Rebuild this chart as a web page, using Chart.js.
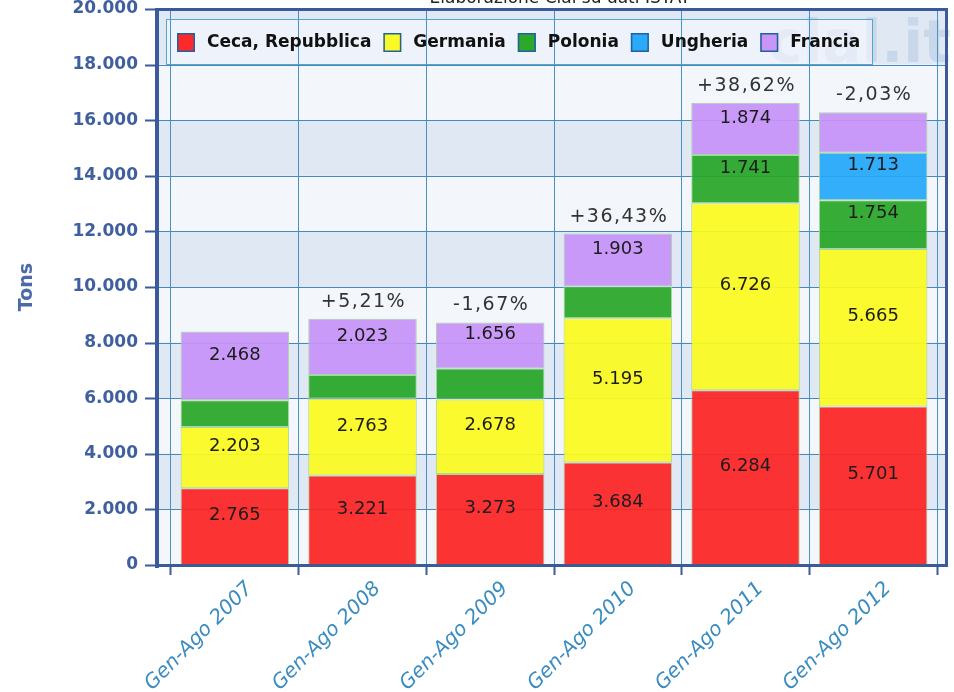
<!DOCTYPE html>
<html><head><meta charset="utf-8">
<script src="https://cdn.jsdelivr.net/npm/chart.js@4.4.1/dist/chart.umd.min.js"></script>
<style>html,body{margin:0;padding:0;background:#fff;}#wrap{width:954px;height:692px;position:relative;}</style>
</head><body><div id="wrap"><canvas id="c" width="954" height="692"></canvas></div>
<script>
const categories = ['Gen-Ago 2007','Gen-Ago 2008','Gen-Ago 2009','Gen-Ago 2010','Gen-Ago 2011','Gen-Ago 2012'];
const seriesNames = ['Ceca, Repubblica','Germania','Polonia','Ungheria','Francia'];
const ceca     = [2765, 3221, 3273, 3684, 6284, 5701];
const germania = [2203, 2763, 2678, 5195, 6726, 5665];
const polonia  = [960, 850, 1115, 1140, 1741, 1754];
const ungheria = [null, null, null, null, null, 1713];
const francia  = [2468, 2023, 1656, 1903, 1874, 1450];
const showCeca     = [true, true, true, true, true, true];
const showGermania = [true, true, true, true, true, true];
const showPolonia  = [false, false, false, false, true, true];
const showUngheria = [false, false, false, false, false, true];
const showFrancia  = [true, true, true, true, true, false];
const variazioni = ['', '+5,21%', '-1,67%', '+36,43%', '+38,62%', '-2,03%'];
const yTicks = [0, 2000, 4000, 6000, 8000, 10000, 12000, 14000, 16000, 18000, 20000];
const titleText = 'Elaborazione Clal su dati ISTAT';
const yTitle = 'Tons';

const colors = ['#fc2a2a', '#f9f927', '#2ca82c', '#2aaaf8', '#c796f6'];
const alphaColors = ['rgba(252,36,36,0.93)', 'rgba(250,250,30,0.93)', 'rgba(40,166,40,0.93)', 'rgba(36,168,250,0.93)', 'rgba(198,146,248,0.93)'];
const seriesData = [ceca, germania, polonia, ungheria, francia];
const seriesShow = [showCeca, showGermania, showPolonia, showUngheria, showFrancia];

function fmt(v){ return String(v).replace(/\B(?=(\d{3})+(?!\d))/g, '.'); }

const FONT = "'DejaVu Sans', Verdana, sans-serif";
const FL = 158, FR = 946;

const framePlugin = {
  id: 'frame',
  beforeDraw(chart){
    const ctx = chart.ctx, y = chart.scales.y, a = chart.chartArea;
    ctx.save();
    ctx.fillStyle = '#f3f6fb';
    ctx.fillRect(FL, a.top, FR - FL, a.bottom - a.top);
    ctx.fillStyle = '#e0e8f4';
    for (let i = 0; i < yTicks.length - 1; i++) {
      if (i % 2 === 1) {
        const y1 = y.getPixelForValue(yTicks[i + 1]), y0 = y.getPixelForValue(yTicks[i]);
        ctx.fillRect(FL, y1, FR - FL, y0 - y1);
      }
    }
    // watermark
    ctx.fillStyle = 'rgba(150,176,216,0.30)';
    ctx.font = 'bold 58px ' + FONT;
    ctx.textAlign = 'left';
    ctx.textBaseline = 'alphabetic';
    ctx.fillText('clal.it', 768, 62);
    // legend box
    ctx.fillStyle = 'rgba(246,249,253,0.6)';
    ctx.fillRect(166, 19, 707, 45);
    ctx.strokeStyle = '#55a6c8';
    ctx.lineWidth = 1;
    ctx.strokeRect(166.5, 19.5, 706, 45);
    ctx.restore();
  },
  beforeDatasetsDraw(chart){
    const ctx = chart.ctx, y = chart.scales.y;
    ctx.save();
    yTicks.forEach(t => {
      const py = Math.round(y.getPixelForValue(t)) + 0.5;
      ctx.strokeStyle = '#4a88bc';
      ctx.lineWidth = 1;
      ctx.beginPath(); ctx.moveTo(FL, py); ctx.lineTo(FR, py); ctx.stroke();
      ctx.strokeStyle = '#3a5a9a';
      ctx.lineWidth = 2;
      ctx.beginPath(); ctx.moveTo(145, py); ctx.lineTo(158, py); ctx.stroke();
    });
    ctx.restore();
  },
  afterDatasetsDraw(chart){
    const ctx = chart.ctx, y = chart.scales.y;
    ctx.save();
    ctx.textAlign = 'center';
    ctx.textBaseline = 'middle';
    ctx.fillStyle = '#1c1c1c';
    ctx.font = '18px ' + FONT;
    seriesData.forEach((arr, i) => {
      const meta = chart.getDatasetMeta(i);
      meta.data.forEach((el, j) => {
        if (arr[j] == null || !seriesShow[i][j]) return;
        const cy = (el.y + el.base) / 2 - 11;
        ctx.fillText(fmt(arr[j]), el.x, cy);
      });
    });
    ctx.font = '19px ' + FONT;
    ctx.fillStyle = '#333';
    if ('letterSpacing' in ctx) ctx.letterSpacing = '1.5px';
    const meta0 = chart.getDatasetMeta(0);
    variazioni.forEach((t, j) => {
      if (!t) return;
      let total = 0;
      seriesData.forEach(arr => { total += arr[j] || 0; });
      const py = y.getPixelForValue(total) - 17;
      ctx.fillText(t, meta0.data[j].x + 1, py);
    });
    ctx.restore();
  },
  afterDraw(chart){
    const ctx = chart.ctx;
    ctx.save();
    // frame thick lines
    ctx.fillStyle = '#3a5a9a';
    ctx.fillRect(155, 8, 4, 560);
    ctx.fillRect(155, 564, FR - 155 + 2, 3);
    ctx.fillRect(155, 8, FR - 155 + 2, 3);
    ctx.fillRect(FR - 1, 8, 3, 559);
    // legend content
    ctx.font = 'bold 17px ' + FONT;
    ctx.textBaseline = 'middle';
    ctx.textAlign = 'left';
    let x = 177;
    seriesNames.forEach((n, i) => {
      ctx.fillStyle = colors[i];
      ctx.fillRect(x, 33, 18, 19);
      ctx.strokeStyle = '#23609c';
      ctx.lineWidth = 1.5;
      ctx.strokeRect(x + 0.75, 33.75, 16.5, 17.5);
      ctx.fillStyle = '#111';
      ctx.fillText(n, x + 30, 42.5);
      x += 30 + ctx.measureText(n).width + 12;
    });
    // title (clipped at top)
    ctx.font = '17px ' + FONT;
    ctx.fillStyle = '#222';
    ctx.textAlign = 'center';
    ctx.textBaseline = 'alphabetic';
    ctx.fillText(titleText, 560, 3);
    ctx.restore();
  }
};

const datasets = seriesData.map((arr, i) => ({
  label: seriesNames[i],
  data: arr,
  backgroundColor: alphaColors[i],
  borderColor: '#a6d8a0',
  borderWidth: 1,
  borderSkipped: false,
  barPercentage: 0.85,
  categoryPercentage: 1.0
}));

new Chart(document.getElementById('c').getContext('2d'), {
  type: 'bar',
  data: { labels: categories, datasets },
  options: {
    responsive: false,
    animation: false,
    layout: { padding: { top: 9, right: 17, left: 0, bottom: 0 } },
    plugins: { legend: { display: false }, tooltip: { enabled: false }, title: { display: false } },
    scales: {
      x: {
        stacked: true,
        offset: true,
        grid: { display: true, offset: true, color: '#4a92c4', lineWidth: 1, drawTicks: true, tickLength: 10, tickColor: '#3a5a9a', tickWidth: 2 },
        border: { display: false },
        ticks: { maxRotation: 45, minRotation: 45, color: '#3a8cc0', font: { family: FONT, size: 20, style: 'italic' }, labelOffset: 15, padding: 2, autoSkip: false },
        afterFit(s) { s.height = 127; s.paddingLeft = 0; s.paddingRight = 0; }
      },
      y: {
        stacked: true,
        min: 0, max: 20000,
        afterBuildTicks(s) { s.ticks = yTicks.map(v => ({ value: v })); },
        ticks: { color: '#3f5f9f', font: { family: FONT, size: 17, weight: 'bold' }, padding: 33, callback: v => fmt(v) },
        grid: { display: false, drawTicks: false },
        border: { display: false },
        title: { display: true, text: yTitle, color: '#4a6aaa', font: { family: FONT, size: 19, weight: 'bold' }, padding: { top: 16, bottom: 0 } },
        afterFit(s) { s.width = 171; s.paddingTop = 0; s.paddingBottom = 0; }
      }
    }
  },
  plugins: [framePlugin]
});
</script>
</body></html>
